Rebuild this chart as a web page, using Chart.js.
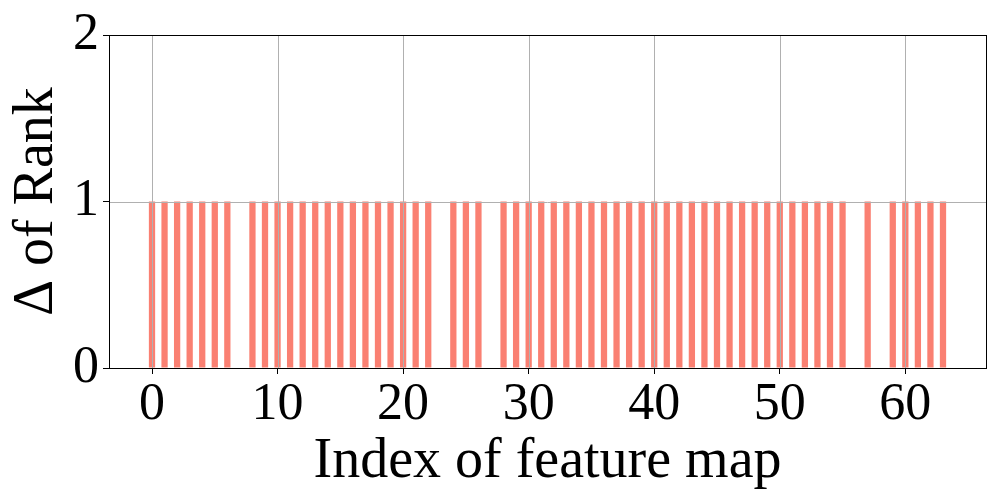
<!DOCTYPE html>
<html>
<head>
<meta charset="utf-8">
<script src="https://cdn.jsdelivr.net/npm/chart.js@4"></script>
<style>
  html, body { margin: 0; padding: 0; background: #fff; }
  #wrap { width: 1000px; height: 500px; }
</style>
</head>
<body>
<div id="wrap"><canvas id="grafico" width="1000" height="500"></canvas></div>
<script>
// índices dos mapas de características (0..63)
var indices = [0,1,2,3,4,5,6,7,8,9,10,11,12,13,14,15,16,17,18,19,20,21,22,23,24,25,26,27,28,29,30,31,
               32,33,34,35,36,37,38,39,40,41,42,43,44,45,46,47,48,49,50,51,52,53,54,55,56,57,58,59,60,61,62,63];
// variação do rank para cada índice
var deltaRank = [1,1,1,1,1,1,1,0,1,1,1,1,1,1,1,1,1,1,1,1,1,1,1,0,1,1,1,0,1,1,1,1,
                 1,1,1,1,1,1,1,1,1,1,1,1,1,1,1,1,1,1,1,1,1,1,1,1,0,1,0,1,1,1,1,1];
var xTicks = [0, 10, 20, 30, 40, 50, 60];
var yTicks = [0, 1, 2];

var fonte = 'Liberation Serif, Times New Roman, serif';
var corGrade = '#b0b0b0';

// grade por cima das barras e moldura nos quatro lados (como no matplotlib)
var moldura = {
  id: 'moldura',
  afterDatasetsDraw: function (chart) {
    var c = chart.ctx, a = chart.chartArea;
    var sx = chart.scales.x, sy = chart.scales.y;
    c.save();
    c.strokeStyle = corGrade;
    c.lineWidth = 1;
    xTicks.forEach(function (v) {
      var px = Math.round(sx.getPixelForValue(v)) + 0.5;
      c.beginPath(); c.moveTo(px, a.top); c.lineTo(px, a.bottom); c.stroke();
    });
    yTicks.forEach(function (v) {
      var py = Math.round(sy.getPixelForValue(v)) + 0.5;
      c.beginPath(); c.moveTo(a.left, py); c.lineTo(a.right, py); c.stroke();
    });
    c.strokeStyle = '#000';
    c.lineWidth = 1;
    c.strokeRect(Math.round(a.left) + 0.5, Math.round(a.top) + 0.5,
                 Math.round(a.right - a.left), Math.round(a.bottom - a.top));
    c.restore();
  }
};

var dados = indices.map(function (x, i) { return { x: x, y: deltaRank[i] }; });

new Chart(document.getElementById('grafico').getContext('2d'), {
  type: 'bar',
  data: {
    datasets: [{
      data: dados,
      backgroundColor: '#fa8072',
      borderWidth: 0,
      barPercentage: 0.5,
      categoryPercentage: 1.0
    }]
  },
  options: {
    responsive: false,
    animation: false,
    layout: { padding: { top: 34, right: 14, left: 0, bottom: 0 } },
    plugins: { legend: { display: false }, tooltip: { enabled: false } },
    scales: {
      x: {
        type: 'linear',
        offset: false,
        min: -3.425,
        max: 66.425,
        afterBuildTicks: function (s) { s.ticks = xTicks.map(function (v) { return { value: v }; }); },
        afterFit: function (s) { s.height = 132; },
        grid: { display: true, offset: false, drawOnChartArea: false, tickLength: 6, tickColor: '#000' },
        border: { display: false },
        ticks: { font: { family: fonte, size: 52 }, color: '#000', padding: 0, maxRotation: 0 },
        title: { display: true, text: 'Index of feature map', font: { family: fonte, size: 56 }, color: '#000', padding: { top: -10 } }
      },
      y: {
        min: 0,
        max: 2,
        afterBuildTicks: function (s) { s.ticks = yTicks.map(function (v) { return { value: v }; }); },
        afterFit: function (s) { s.width = 109; },
        grid: { display: true, drawOnChartArea: false, tickLength: 6, tickColor: '#000' },
        border: { display: false },
        ticks: { font: { family: fonte, size: 52 }, color: '#000', padding: 4 },
        title: { display: true, text: 'Δ of Rank', font: { family: fonte, size: 56 }, color: '#000', padding: { top: 4, bottom: 0 } }
      }
    }
  },
  plugins: [moldura]
});
</script>
</body>
</html>
